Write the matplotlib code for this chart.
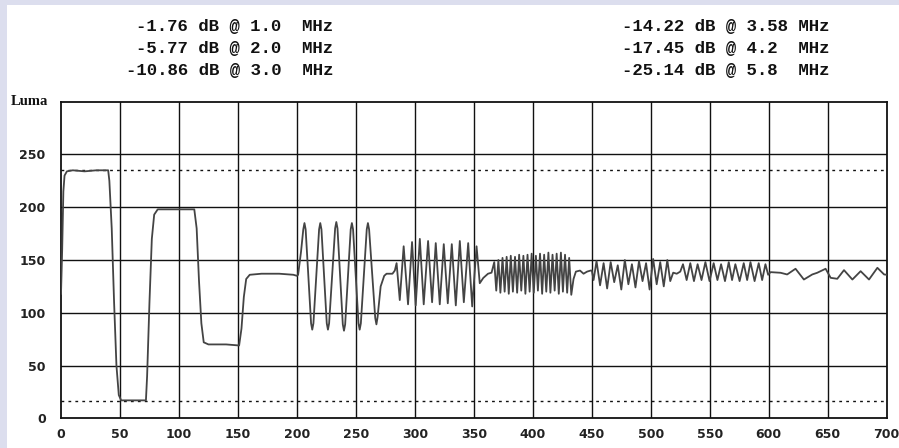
import matplotlib
matplotlib.use("Agg")
import matplotlib.pyplot as plt
from matplotlib.patches import Rectangle

# attenuation readouts shown above the scope trace
left_notes = ["-1.76 dB @ 1.0  MHz", "-5.77 dB @ 2.0  MHz", "-10.86 dB @ 3.0  MHz"]
right_notes = ["-14.22 dB @ 3.58 MHz", "-17.45 dB @ 4.2  MHz", "-25.14 dB @ 5.8  MHz"]

x_ticks = [0, 50, 100, 150, 200, 250, 300, 350, 400, 450, 500, 550, 600, 650, 700]
y_ticks = [0, 50, 100, 150, 200, 250]
ref_levels = [235, 16]

# luma trace, read off the picture as turning points
# steps: white, black, grey levels, then the flat pedestal
steps_x = [0, 1, 2, 3, 5, 10, 20, 30, 40, 41, 43, 45, 47, 49, 51, 60, 72, 73, 75, 77, 79, 82,
           100, 113, 115, 117, 119, 121, 125, 140, 151, 153, 155, 157, 160, 170, 185, 197, 200, 201]
steps_y = [118, 160, 215, 230, 234, 235, 234, 235, 235, 225, 180, 110, 50, 22, 17, 17, 17, 40, 110, 170, 193, 198,
           198, 198, 180, 130, 90, 72, 70, 70, 69, 85, 115, 132, 136, 137, 137, 136, 135, 136]

# burst 1 (about 1 MHz), with shoulders round each peak
b1_x = [203.5, 205.4, 206.4, 207.4, 212.0, 213.0, 214.0, 218.8, 219.8, 220.8, 225.3, 226.3, 227.3,
        232.4, 233.4, 234.4, 238.9, 239.9, 240.9, 245.6, 246.6, 247.6, 252.2, 253.2, 254.2,
        259.2, 260.2, 261.2, 266.4, 267.4, 268.4, 271, 274, 276, 281, 283, 284.5]
b1_y = [158, 179, 185, 179, 90, 84, 90, 179, 185, 179, 90, 84, 90,
        180, 186, 180, 89, 83, 89, 179, 185, 179, 90, 84, 90,
        179, 185, 179, 95, 89, 96, 125, 135, 137, 137, 140, 147]

# burst 2 (about 2 MHz)
b2_x = [287.2, 290.5, 294.2, 297.6, 300.7, 304.2, 307.5, 311.2, 314.6, 317.7, 321.1, 324.5, 327.9,
        331.3, 334.7, 338.1, 341.5, 345.2, 348.6, 352.3, 355, 358, 362, 365]
b2_y = [112, 163, 108, 167, 107, 170, 108, 168, 110, 166, 108, 165, 109,
        165, 107, 168, 110, 166, 106, 163, 128, 133, 137, 138]

# burst 3 (about 3 MHz)
b3_x = [367.3, 369.0, 370.8, 372.5, 374.3, 376.1, 377.8, 379.6, 381.3, 383.1, 384.9, 386.7, 388.4,
        390.2, 392.0, 393.7, 395.5, 397.3, 399.0, 400.8, 402.6, 404.3, 406.1, 407.9, 409.6, 411.4,
        413.2, 414.9, 416.7, 418.5, 420.2, 422.0, 423.8, 425.5, 427.3, 429.1, 430.8, 432.6,
        434.5, 436.5, 440, 443, 446, 449]
b3_y = [148, 121, 150, 119, 152, 120, 153, 118, 154, 120, 153, 119, 155,
        121, 154, 118, 155, 120, 156, 119, 154, 121, 156, 118, 155, 120,
        157, 119, 155, 121, 156, 118, 157, 120, 155, 119, 152, 117,
        132, 139, 140, 137, 139, 140]

# burst 4 (3.58 MHz)
b4_x = [450, 451.5, 454, 457, 460, 463, 466, 469, 472, 475, 478, 481, 484, 487, 490, 493,
        496, 499, 502, 505, 508, 511, 514, 516.5, 519, 522, 525]
b4_y = [140, 131, 149, 126, 147, 123, 148, 129, 145, 122, 150, 127, 146, 124, 149, 130,
        147, 122, 151, 127, 148, 125, 150, 130, 138, 137, 139]

# burst 5 (4.2 MHz)
b5_x = [527.3, 530.4, 533.5, 536.6, 539.7, 543.0, 546.3, 549.8, 553.3, 556.5, 559.6, 562.9,
        566.1, 568.9, 571.7, 575.3, 578.8, 581.7, 584.5, 588.0, 591.5, 594.4, 597.2, 599.5]
b5_y = [146, 131, 147, 130, 146, 131, 148, 130, 147, 131, 146, 130,
        148, 131, 146, 130, 147, 131, 148, 130, 147, 131, 146, 136]

# burst 6 (5.8 MHz)
b6_x = [601.5, 610, 615.6, 622.7, 629.8, 636.9, 641.1, 648.2, 652.5, 658.1, 663.8, 670.9,
        677.9, 685.0, 692.1, 697.8, 700]
b6_y = [138.5, 137.9, 136.3, 141.7, 131.5, 136.3, 137.9, 141.7, 133.1, 132.2, 140.4, 131.5,
        139.4, 131.5, 142.6, 136.3, 136]

trace_x = steps_x + b1_x + b2_x + b3_x + b4_x + b5_x + b6_x
trace_y = steps_y + b1_y + b2_y + b3_y + b4_y + b5_y + b6_y

W, H = 899, 448
fig = plt.figure(figsize=(W / 100, H / 100), dpi=100)
fig.patch.set_facecolor("#dcdeee")
fig.add_artist(Rectangle((7 / W, 0), 1, (H - 5) / H, transform=fig.transFigure,
                         facecolor="white", edgecolor="none", zorder=0))

ax = fig.add_axes([61 / W, (H - 418.3) / H, 825.7 / W, 316.6 / H])
ax.set_xlim(0, 700)
ax.set_ylim(0, 300)

for xv in x_ticks[1:-1]:
    ax.axvline(xv, color="#111111", lw=1.0, zorder=1)
for yv in y_ticks[1:]:
    ax.axhline(yv, color="#111111", lw=1.0, zorder=1)
for lv in ref_levels:
    ax.axhline(lv, color="#111111", lw=1.0, linestyle=(0, (2, 3)), zorder=1)

ax.plot(trace_x, trace_y, color="#444444", lw=1.3, zorder=3, solid_joinstyle="round")

for s in ax.spines.values():
    s.set_linewidth(1.3)
    s.set_color("#111111")

ax.set_xticks(x_ticks)
ax.set_yticks(y_ticks)
ax.tick_params(length=0, labelsize=9, labelcolor="#222222")
ax.tick_params(axis="x", pad=7)
ax.tick_params(axis="y", pad=11)
for lab in ax.get_xticklabels() + ax.get_yticklabels():
    lab.set_fontweight("bold")

ax.text(-0.0155, 1.0, "Luma", transform=ax.transAxes, ha="right", va="center",
        fontsize=10.5, fontweight="bold", family="Liberation Serif", color="#111111")

for i, (a, b) in enumerate(zip(left_notes, right_notes)):
    yy = 1 - (26 + 22 * i) / H
    fig.text(333 / W, yy, a, ha="right", va="center", fontsize=12.5,
             fontweight="bold", family="Liberation Mono", color="#111111")
    fig.text(830 / W, yy, b, ha="right", va="center", fontsize=12.5,
             fontweight="bold", family="Liberation Mono", color="#111111")

fig.savefig("out.png", dpi=100)
